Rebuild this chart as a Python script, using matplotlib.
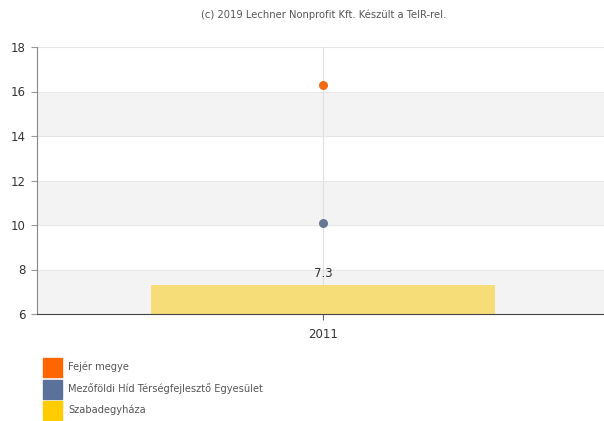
import matplotlib
matplotlib.use("Agg")
import matplotlib.pyplot as plt
from matplotlib.patches import Rectangle

categories = ["2011"]
fejer = [16.3]
mezofold = [10.1]
szabadegyhaza = [7.3]
series_names = ["Fejér megye", "Mezőföldi Híd Térségfejlesztő Egyesület", "Szabadegyháza"]
series_colors = ["#FF6600", "#5A7199", "#FFCC00"]
yticks = [6, 8, 10, 12, 14, 16, 18]

fig = plt.figure(figsize=(6.04, 4.21), dpi=100)
ax = fig.add_axes([37/604, 1 - 314/421, 567/604, 267/421])

ax.set_ylim(6, 18)
ax.set_xlim(-0.505, 0.495)

# alternating bands
for lo in (6, 10, 14):
    ax.axhspan(lo, lo + 2, color="#F3F3F3", zorder=0, lw=0)
for y in yticks:
    ax.axhline(y, color="#E6E6E6", lw=0.8, zorder=0.5)
ax.axvline(0, color="#E0E0E0", lw=0.8, zorder=0.5)

x = list(range(len(categories)))
ax.bar(x, [v - 6 for v in szabadegyhaza], bottom=6, width=0.607,
       color="#F7DD78", zorder=2)
for xi, v in zip(x, szabadegyhaza):
    ax.text(xi, v + 0.25, f"{v}", ha="center", va="bottom", fontsize=8.5, color="#333333")

ax.scatter(x, fejer, s=30, color="#F06A14", zorder=3)
ax.scatter(x, mezofold, s=30, color="#657896", zorder=3)

ax.set_yticks(yticks)
ax.set_yticklabels([str(t) for t in yticks], fontsize=8.5, color="#333333")
ax.set_xticks(x)
ax.set_xticklabels(categories, fontsize=8.5, color="#333333")
ax.tick_params(axis="y", length=4, color="#999999", pad=4)
ax.tick_params(axis="x", length=4, color="#666666", pad=6)

for s in ("top", "right"):
    ax.spines[s].set_visible(False)
ax.spines["left"].set_color("#888888")
ax.spines["bottom"].set_color("#444444")

fig.text(324/604, 1 - 15/421, "(c) 2019 Lechner Nonprofit Kft. Készült a TeIR-rel.",
         ha="center", va="center", fontsize=7.2, color="#555555")

# legend
leg_y = [367, 389, 410]
for name, col, yp in zip(series_names, series_colors, leg_y):
    fig.patches.append(Rectangle((43/604, 1 - (yp + 9.5)/421), 19/604, 19/421,
                                 transform=fig.transFigure, color=col, figure=fig))
    fig.text(68/604, 1 - yp/421, name, ha="left", va="center", fontsize=7.1, color="#555555")

fig.savefig("out.png", dpi=100)
